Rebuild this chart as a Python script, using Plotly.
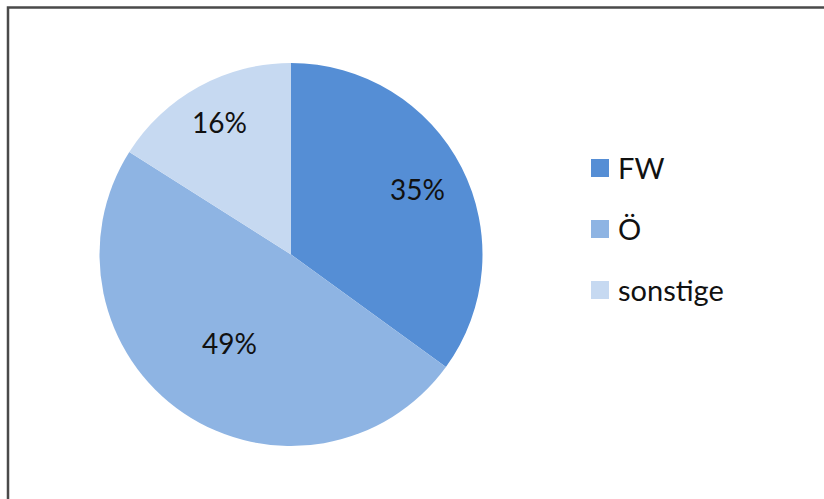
import math
import plotly.graph_objects as go

# Data
categories = ["FW", "Ö", "sonstige"]
shares = [35, 49, 16]

# Styling
colors = ["#558ED5", "#8EB4E3", "#C6D9F1"]
label_radius = [0.74, 0.57, 0.78]   # radial position of each percent label (fraction of radius)

W, H = 824, 499
cx, cy, r = 291.0, 254.5, 191.5     # pie centre / radius in pixels
FONT = "Lato, Calibri, sans-serif"

fig = go.Figure(
    go.Pie(
        labels=categories,
        values=shares,
        sort=False,
        direction="clockwise",
        rotation=0,
        marker=dict(colors=colors, line=dict(width=0)),
        textinfo="none",
        hoverinfo="label+percent",
        showlegend=False,
        domain=dict(x=[(cx - r) / W, (cx + r) / W],
                    y=[1 - (cy + r) / H, 1 - (cy - r) / H]),
    )
)

annotations = []
shapes = []

# Percent labels placed along each slice's bisector
total = sum(shares)
cum = 0
for val, frac in zip(shares, label_radius):
    mid = (cum + val / 2) / total * 2 * math.pi
    cum += val
    px = cx + frac * r * math.sin(mid)
    py = cy - frac * r * math.cos(mid)
    annotations.append(dict(
        x=px / W, y=1 - (py - 1.5) / H, xref="paper", yref="paper",
        text=f"{round(val / total * 100)}%", showarrow=False,
        xanchor="center", yanchor="middle",
        font=dict(family=FONT, size=28, color="#111111"),
    ))

# Legend: coloured squares with category names
leg_x, leg_y0, leg_dy, sq = 591, 168, 61, 18
for i, (name, col) in enumerate(zip(categories, colors)):
    yc = leg_y0 + i * leg_dy
    shapes.append(dict(
        type="rect", xref="paper", yref="paper",
        x0=leg_x / W, x1=(leg_x + sq) / W,
        y0=1 - (yc + sq / 2) / H, y1=1 - (yc - sq / 2) / H,
        fillcolor=col, line=dict(width=0),
    ))
    annotations.append(dict(
        x=(leg_x + sq + 7) / W, y=1 - (yc - 1) / H, xref="paper", yref="paper",
        text=name, showarrow=False, xanchor="left", yanchor="middle",
        font=dict(family=FONT, size=29, color="#111111"),
    ))

# Chart frame
shapes.append(dict(
    type="rect", xref="paper", yref="paper",
    x0=8 / W, x1=1.05, y0=-0.05, y1=1 - 7.5 / H,
    line=dict(color="#4a4a4a", width=2.5), fillcolor="rgba(0,0,0,0)",
))

fig.update_layout(
    width=W, height=H,
    margin=dict(l=0, r=0, t=0, b=0),
    paper_bgcolor="white", plot_bgcolor="white",
    annotations=annotations, shapes=shapes,
)

fig.write_html("out.html")
